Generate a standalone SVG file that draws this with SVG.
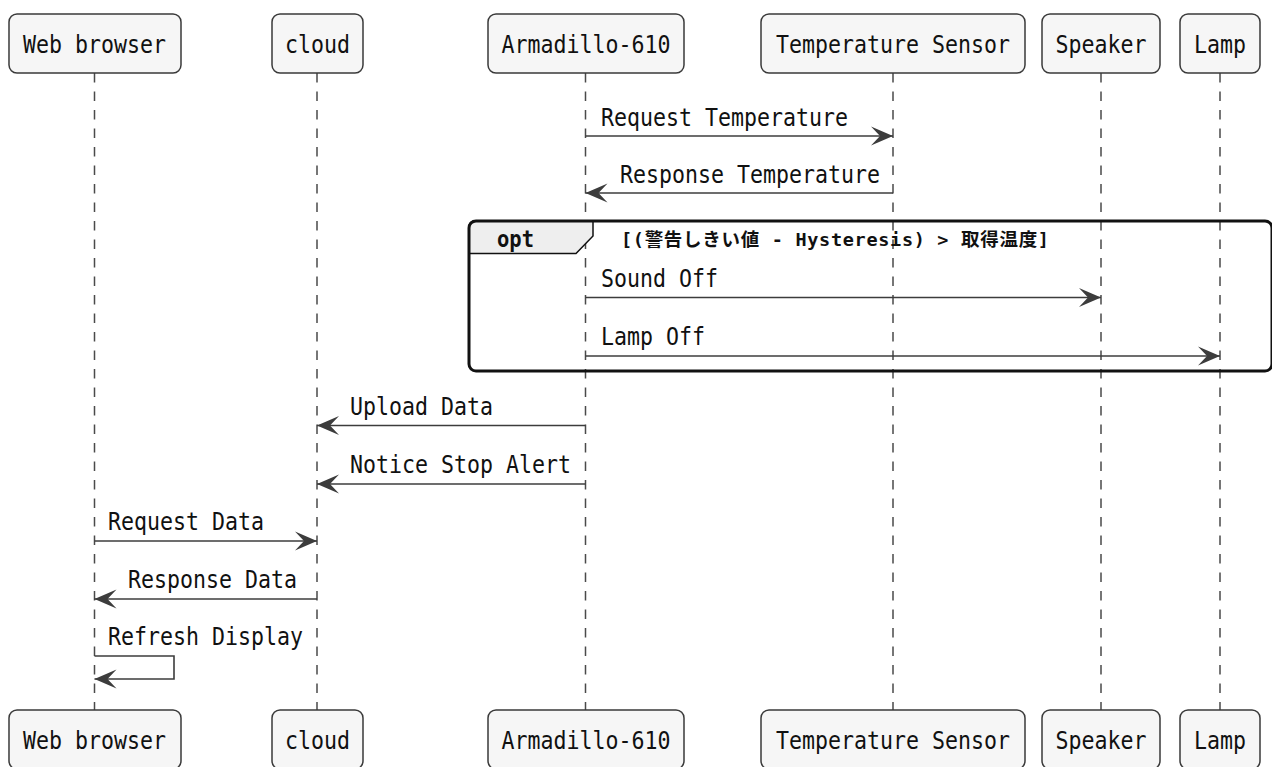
<svg xmlns="http://www.w3.org/2000/svg" width="1272" height="767" viewBox="0 0 1272 767">
<defs>
<style>
.box{fill:#f6f6f6;stroke:#3a3a3a;stroke-width:1.5}
.lbl{font-family:"DejaVu Sans Mono","Liberation Mono","Noto Sans CJK JP",monospace;font-size:24px;fill:#111}
.life{stroke:#4a4a4a;stroke-width:1.5;stroke-dasharray:9.5,9}
.msg{stroke:#3c3c3c;stroke-width:1.6;fill:none}
.frame{fill:none;stroke:#111;stroke-width:3}
.tab{fill:#eeeeee;stroke:#111;stroke-width:1.5}
.bold{font-family:"DejaVu Sans Mono","Noto Sans CJK JP",monospace;font-weight:bold;fill:#111}
</style>
<marker id="ah" markerUnits="userSpaceOnUse" viewBox="-24 -11 26 22" markerWidth="26" markerHeight="22" refX="0" refY="0" orient="auto">
<path d="M0,0 L-22,-9.5 L-13,0 L-22,9.5 Z" fill="#3c3c3c"/>
</marker>
</defs>
<rect width="1272" height="767" fill="#ffffff"/>

<g id="lifelines">
<line class="life" x1="94.5" y1="73" x2="94.5" y2="710"/>
<line class="life" x1="317" y1="73" x2="317" y2="710"/>
<line class="life" x1="585.5" y1="73" x2="585.5" y2="710"/>
<line class="life" x1="893" y1="73" x2="893" y2="710"/>
<line class="life" x1="1101" y1="73" x2="1101" y2="710"/>
<line class="life" x1="1220" y1="73" x2="1220" y2="710"/>
</g>

<g id="opt-fragment">
<path class="tab" d="M469,227 Q469,221 475,221 L593,221 L593,236 L576,253.5 L469,253.5 Z"/>
<rect class="frame" x="469" y="221" width="803" height="150" rx="7"/>
<text class="bold" x="497" y="246.5" font-size="23" textLength="37" lengthAdjust="spacingAndGlyphs">opt</text>
<text class="bold" x="621" y="246" font-size="18.5" textLength="428" lengthAdjust="spacing">[(警告しきい値 - Hysteresis) &gt; 取得温度]</text>
</g>

<g id="connectors">
<line class="msg" x1="585.5" y1="136" x2="893" y2="136" marker-end="url(#ah)"/>
<text class="lbl" x="601" y="126" textLength="247" lengthAdjust="spacingAndGlyphs">Request Temperature</text>

<line class="msg" x1="893" y1="193" x2="585.5" y2="193" marker-end="url(#ah)"/>
<text class="lbl" x="620" y="183" textLength="260" lengthAdjust="spacingAndGlyphs">Response Temperature</text>

<line class="msg" x1="585.5" y1="297.5" x2="1101" y2="297.5" marker-end="url(#ah)"/>
<text class="lbl" x="601" y="287" textLength="117" lengthAdjust="spacingAndGlyphs">Sound Off</text>

<line class="msg" x1="585.5" y1="356" x2="1220" y2="356" marker-end="url(#ah)"/>
<text class="lbl" x="601" y="345" textLength="104" lengthAdjust="spacingAndGlyphs">Lamp Off</text>

<line class="msg" x1="585.5" y1="425.5" x2="317" y2="425.5" marker-end="url(#ah)"/>
<text class="lbl" x="350" y="415" textLength="143" lengthAdjust="spacingAndGlyphs">Upload Data</text>

<line class="msg" x1="585.5" y1="484" x2="317" y2="484" marker-end="url(#ah)"/>
<text class="lbl" x="350" y="473" textLength="221" lengthAdjust="spacingAndGlyphs">Notice Stop Alert</text>

<line class="msg" x1="94.5" y1="541" x2="317" y2="541" marker-end="url(#ah)"/>
<text class="lbl" x="108" y="530" textLength="156" lengthAdjust="spacingAndGlyphs">Request Data</text>

<line class="msg" x1="317" y1="599" x2="94.5" y2="599" marker-end="url(#ah)"/>
<text class="lbl" x="128" y="588" textLength="169" lengthAdjust="spacingAndGlyphs">Response Data</text>

<polyline class="msg" points="94.5,656 174,656 174,679 94.5,679" marker-end="url(#ah)"/>
<text class="lbl" x="108" y="645" textLength="195" lengthAdjust="spacingAndGlyphs">Refresh Display</text>
</g>

<g id="web-browser">
<rect class="box" x="9" y="14" width="172" height="59" rx="8"/>
<text class="lbl" x="23" y="52.5" textLength="143" lengthAdjust="spacingAndGlyphs">Web browser</text>
<rect class="box" x="9" y="710" width="172" height="59" rx="8"/>
<text class="lbl" x="23" y="748.5" textLength="143" lengthAdjust="spacingAndGlyphs">Web browser</text>
</g>

<g id="cloud">
<rect class="box" x="272" y="14" width="91" height="59" rx="8"/>
<text class="lbl" x="285" y="52.5" textLength="65" lengthAdjust="spacingAndGlyphs">cloud</text>
<rect class="box" x="272" y="710" width="91" height="59" rx="8"/>
<text class="lbl" x="285" y="748.5" textLength="65" lengthAdjust="spacingAndGlyphs">cloud</text>
</g>

<g id="armadillo-610">
<rect class="box" x="488" y="14" width="196" height="59" rx="8"/>
<text class="lbl" x="501.5" y="52.5" textLength="169" lengthAdjust="spacingAndGlyphs">Armadillo-610</text>
<rect class="box" x="488" y="710" width="196" height="59" rx="8"/>
<text class="lbl" x="501.5" y="748.5" textLength="169" lengthAdjust="spacingAndGlyphs">Armadillo-610</text>
</g>

<g id="temperature-sensor">
<rect class="box" x="761" y="14" width="264" height="59" rx="8"/>
<text class="lbl" x="776" y="52.5" textLength="234" lengthAdjust="spacingAndGlyphs">Temperature Sensor</text>
<rect class="box" x="761" y="710" width="264" height="59" rx="8"/>
<text class="lbl" x="776" y="748.5" textLength="234" lengthAdjust="spacingAndGlyphs">Temperature Sensor</text>
</g>

<g id="speaker">
<rect class="box" x="1042" y="14" width="118" height="59" rx="8"/>
<text class="lbl" x="1055.5" y="52.5" textLength="91" lengthAdjust="spacingAndGlyphs">Speaker</text>
<rect class="box" x="1042" y="710" width="118" height="59" rx="8"/>
<text class="lbl" x="1055.5" y="748.5" textLength="91" lengthAdjust="spacingAndGlyphs">Speaker</text>
</g>

<g id="lamp">
<rect class="box" x="1180" y="14" width="80" height="59" rx="8"/>
<text class="lbl" x="1194" y="52.5" textLength="52" lengthAdjust="spacingAndGlyphs">Lamp</text>
<rect class="box" x="1180" y="710" width="80" height="59" rx="8"/>
<text class="lbl" x="1194" y="748.5" textLength="52" lengthAdjust="spacingAndGlyphs">Lamp</text>
</g>
</svg>
